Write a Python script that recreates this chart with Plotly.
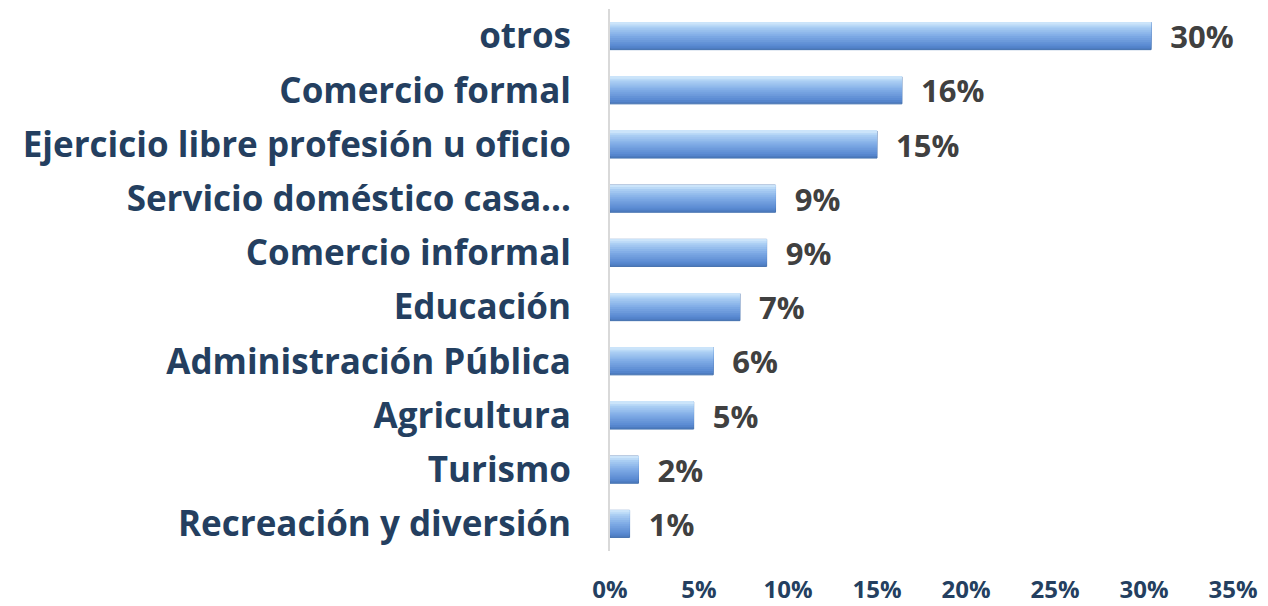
import plotly.graph_objects as go

categories = ["otros", "Comercio formal", "Ejercicio libre profesión u oficio",
              "Servicio doméstico casa…", "Comercio informal", "Educación",
              "Administración Pública", "Agricultura", "Turismo",
              "Recreación y diversión"]
values = [0.304, 0.164, 0.150, 0.093, 0.088, 0.073, 0.058, 0.047, 0.016, 0.011]
tick_vals = [0, 0.05, 0.10, 0.15, 0.20, 0.25, 0.30, 0.35]
tick_text = ["0%", "5%", "10%", "15%", "20%", "25%", "30%", "35%"]

FONT = "Open Sans"
fig = go.Figure()


def mix(c1, c2, t):
    a = [int(c1[i:i + 2], 16) for i in (1, 3, 5)]
    b = [int(c2[i:i + 2], 16) for i in (1, 3, 5)]
    return "#%02x%02x%02x" % tuple(round(a[k] + (b[k] - a[k]) * t) for k in range(3))


# gradient stops (top -> bottom of the bar) to imitate the glossy fill
stops = [(0.0, "#D4EAFC"), (0.18, "#A9CDF3"), (0.5, "#7EAAE5"), (0.85, "#5A8AD2"), (1.0, "#4A78BC")]


def grad(t):
    for (t0, c0), (t1, c1) in zip(stops, stops[1:]):
        if t <= t1:
            return mix(c0, c1, (t - t0) / (t1 - t0))
    return stops[-1][1]


FULL = 0.5
N = 14
for i in range(N):
    frac = 1 - i / N
    w = FULL * frac
    col = grad(frac - 0.5 / N)
    first = i == 0
    fig.add_trace(go.Bar(
        x=values, y=categories, orientation="h",
        width=w, offset=-FULL / 2,
        marker=dict(color=col,
                    line=dict(color="#4471AE", width=1) if first else dict(width=0)),
        text=values if first else None,
        texttemplate="  %{x:.0%}" if first else None,
        textposition="outside" if first else "none",
        constraintext="none",
        textfont=dict(family=FONT, size=31, color="#404040", weight="bold"),
        cliponaxis=False,
        hoverinfo="skip",
        showlegend=False,
    ))

# the page body adds an 8px offset, so the figure is sized 8px smaller
fig.update_layout(
    barmode="overlay",
    width=1260, height=598,
    margin=dict(l=602, r=35, t=1, b=55),
    paper_bgcolor="white", plot_bgcolor="white",
    xaxis=dict(range=[0, 0.35], tickvals=tick_vals, ticktext=tick_text,
               automargin=False,
               showgrid=False, zeroline=False, showline=False,
               ticks="", ticklabelstandoff=22,
               tickfont=dict(family=FONT, size=24, color="#243F60", weight="bold")),
    yaxis=dict(categoryorder="array", categoryarray=categories,
               autorange="reversed", automargin=False,
               showgrid=False, zeroline=False,
               showline=True, linecolor="#D9D9D9", linewidth=2,
               ticks="", ticklabelstandoff=30,
               tickfont=dict(family=FONT, size=35, color="#243F60", weight="bold")),
)

fig.write_html("out.html")
